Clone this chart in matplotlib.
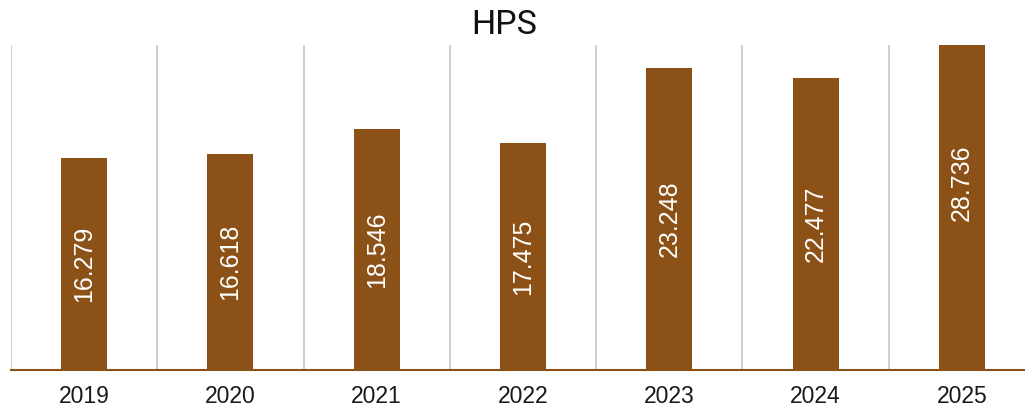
import matplotlib.pyplot as plt

# Data
years = ['2019', '2020', '2021', '2022', '2023', '2024', '2025']
hps = [16.279, 16.618, 18.546, 17.475, 23.248, 22.477, 28.736]

bar_color = '#8B5116'
grid_color = '#D6C6C0'

fig = plt.figure(figsize=(10.25, 4.08), dpi=100)
ax = fig.add_axes([11 / 1025, 38 / 408, 1024 / 1025, 325 / 408])

x = range(len(years))
ax.bar(x, hps, width=0.315, color=bar_color, zorder=3)

# value labels inside bars
for i, v in zip(x, hps):
    ax.text(i, v / 2, f'{v:.3f}', rotation=90, ha='center', va='center',
            color='white', fontsize=18, family='Liberation Sans', zorder=4)

ax.set_xlim(-0.5, len(years) - 0.5)
ax.set_ylim(0, 25)

# category separators
for b in range(len(years) + 1):
    ax.axvline(b - 0.5, color=grid_color, linewidth=1.3, zorder=1)

ax.set_xticks(list(x))
ax.set_xticklabels(years, fontsize=16.5, family='Liberation Sans', color='#1a1a1a')
ax.tick_params(axis='x', length=0, pad=10.5)
ax.set_yticks([])

for s in ['top', 'left', 'right']:
    ax.spines[s].set_visible(False)
ax.spines['bottom'].set_color(bar_color)
ax.spines['bottom'].set_linewidth(1.5)
ax.spines['bottom'].set_zorder(5)

fig.text(504 / 1025, 1 - 25 / 408, 'HPS', ha='center', va='center',
         fontsize=24.5, family='Roboto', color='#111111')

plt.savefig('out.png', dpi=100)
